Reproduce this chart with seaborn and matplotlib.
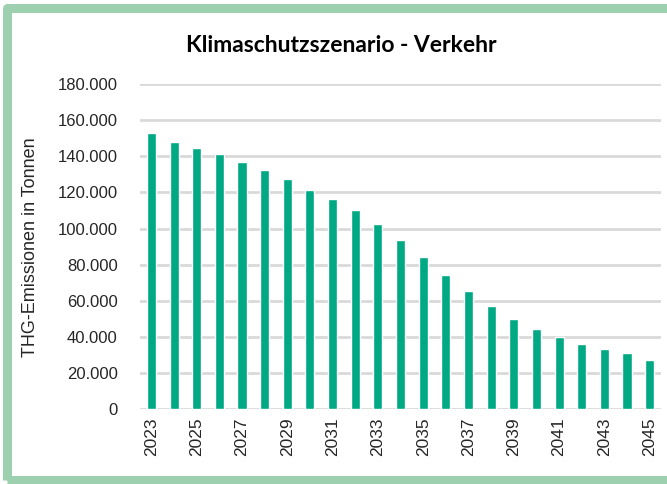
import matplotlib
matplotlib.use("Agg")
import matplotlib.pyplot as plt
import seaborn as sns
from matplotlib.patches import Rectangle
from matplotlib.ticker import FuncFormatter

# Werte (t CO2e)
years = list(range(2023, 2046))
emissions = [153000, 148000, 144700, 141300, 137000, 132600, 127600, 121300,
             116300, 110200, 102600, 93700, 84100, 74400, 65200, 56900,
             49800, 44300, 39800, 36100, 33200, 30800, 27000]
yticks = list(range(0, 180001, 20000))

title = "Klimaschutzszenario - Verkehr"
ylabel = "THG-Emissionen in Tonnen"

bar_color = "#00A984"
frame_color = "#9DD0AF"
grid_color = "#D9D9D9"
text_color = "#262626"

sns.set_theme(style="white")
plt.rcParams["font.family"] = ["Liberation Sans", "DejaVu Sans"]

fig = plt.figure(figsize=(6.67, 4.84), dpi=100)
ax = fig.add_axes([0.21, 0.155, 0.781, 0.671])

sns.barplot(x=[str(y) for y in years], y=emissions, color=bar_color,
            width=0.4, saturation=1, ax=ax)

ax.set_ylim(0, 180000)
ax.set_xlim(-0.5, len(years) - 0.5)
ax.set_yticks(yticks)
ax.yaxis.set_major_formatter(FuncFormatter(lambda v, _: f"{v:,.0f}".replace(",", ".")))
ax.set_xticks(range(0, len(years), 2))
ax.set_xticklabels([str(y) for y in years[::2]], rotation=90)

ax.grid(axis="y", color=grid_color, linewidth=2)
ax.set_axisbelow(True)
sns.despine(ax=ax, left=True, bottom=True, top=True, right=True)
ax.tick_params(axis="y", length=0, pad=16, labelsize=12, labelcolor=text_color)
ax.tick_params(axis="x", length=0, pad=6, labelsize=12.5, labelcolor=text_color)
ax.set_xlabel("")
ax.set_ylabel("")

fig.text(0.046, 0.49, ylabel, rotation=90, ha="center", va="center",
         fontsize=13, color=text_color)
fig.text(0.511, 0.905, title, ha="center", va="center", fontsize=16.5,
         fontweight="bold", color="black", family=["Lato", "DejaVu Sans"])

# gruener Rahmen
fig.patches.append(Rectangle((7 / 667, 4 / 484), 1.05, 472 / 484,
                             transform=fig.transFigure, fill=False,
                             edgecolor=frame_color, linewidth=6.5,
                             joinstyle="round", zorder=0))

fig.savefig("out.png", dpi=100)
